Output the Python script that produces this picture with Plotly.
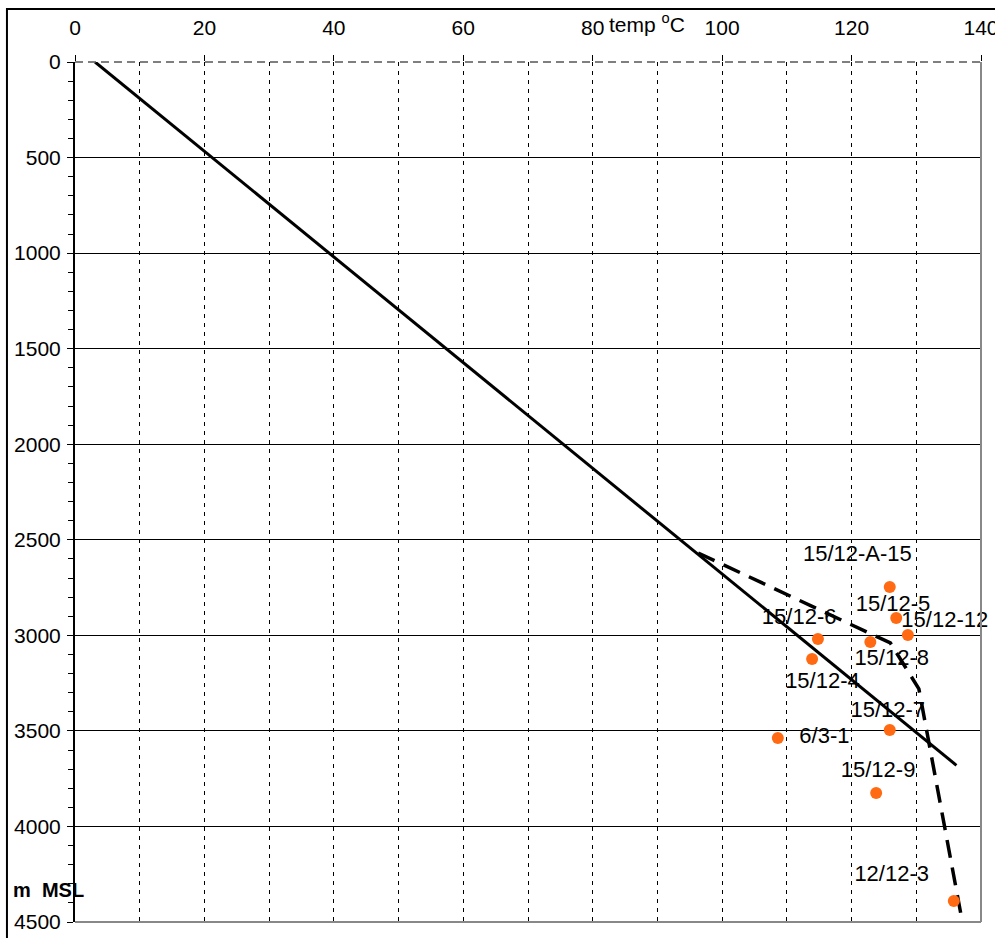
import plotly.graph_objects as go

# Trend line (solid)
trend_temp = [3.1, 136.2]
trend_depth = [0, 3680]

# Interpreted profile (dashed)
profile_temp = [96.3, 126.0, 130.4, 136.9]
profile_depth = [2569, 3040, 3280, 4460]

# Well measurements
well_names = ["15/12-A-15", "15/12-5", "15/12-12", "15/12-6", "15/12-8",
              "15/12-4", "15/12-7", "6/3-1", "15/12-9", "12/12-3"]
well_temp = [125.9, 126.9, 128.7, 114.8, 122.9, 113.9, 125.9, 108.6, 123.8, 135.8]
well_depth = [2747, 2909, 2998, 3019, 3035, 3124, 3495, 3537, 3825, 4390]

# Label positions
label_temp = [120.9, 126.4, 134.4, 111.9, 126.2, 115.5, 125.6, 115.8, 124.1, 126.2]
label_depth = [2584, 2845, 2929, 2913, 3128, 3248, 3400, 3535, 3715, 4257]

x_ticks = [0, 20, 40, 60, 80, 100, 120, 140]
y_ticks = [0, 500, 1000, 1500, 2000, 2500, 3000, 3500, 4000, 4500]
y_grid = [500, 1000, 1500, 2000, 2500, 3000, 3500, 4000]

FONT = "Liberation Sans, Arial, sans-serif"
FS = 21

fig = go.Figure()
fig.add_trace(go.Scatter(x=trend_temp, y=trend_depth, mode="lines",
                         line=dict(color="black", width=3), hoverinfo="skip"))
fig.add_trace(go.Scatter(x=profile_temp, y=profile_depth, mode="lines",
                         line=dict(color="black", width=3.5, dash="18px,10px"),
                         hoverinfo="skip"))
fig.add_trace(go.Scatter(x=well_temp, y=well_depth, mode="markers",
                         marker=dict(color="#FF6A13", size=12), cliponaxis=False))
fig.add_trace(go.Scatter(x=label_temp, y=label_depth, mode="text", text=well_names,
                         textposition="middle center", cliponaxis=False,
                         textfont=dict(family=FONT, size=22, color="black")))
# invisible trace to activate overlay grid axis
fig.add_trace(go.Scatter(x=[None], y=[None], yaxis="y2", showlegend=False))

fig.update_layout(
    width=995, height=938,
    margin=dict(l=75, r=14, t=62, b=16, autoexpand=False),
    paper_bgcolor="white", plot_bgcolor="white",
    showlegend=False,
    font=dict(family=FONT, size=FS, color="black"),
    xaxis=dict(range=[0, 140], side="top", tickvals=x_ticks, automargin=False,
               ticks="outside", ticklen=6, tickcolor="black", tickwidth=1,
               showline=False, zeroline=False, ticklabeloverflow="allow",
               showgrid=True, gridcolor="black", gridwidth=1, griddash="4px,5px",
               minor=dict(dtick=10, showgrid=True, gridcolor="black", gridwidth=1,
                          griddash="4px,5px"),
               ticklabelstandoff=12,
               tickfont=dict(size=FS, family=FONT)),
    yaxis=dict(range=[4500, 0], tickvals=y_ticks, automargin=False,
               ticks="outside", ticklen=6, tickcolor="black",
               showline=True, linecolor="black", linewidth=2,
               showgrid=False, zeroline=False, ticklabeloverflow="allow",
               minor=dict(dtick=100, ticks="outside", ticklen=5, tickcolor="black",
                          showgrid=False),
               ticklabelstandoff=2,
               tickfont=dict(size=FS, family=FONT)),
    yaxis2=dict(range=[4500, 0], overlaying="y", tickvals=y_grid, automargin=False,
                showticklabels=False, ticks="", showline=False, zeroline=False,
                showgrid=True, gridcolor="black", gridwidth=1),
    shapes=[
        # outer frame
        dict(type="rect", xref="paper", yref="paper", x0=-0.0751, x1=1.03,
             y0=-0.03, y1=1.0616, line=dict(color="black", width=2), layer="below"),
        # top dashed axis line
        dict(type="line", xref="paper", yref="paper", x0=0, x1=1, y0=1, y1=1,
             line=dict(color="#555555", width=1.5, dash="8px,5px"), layer="above"),
        # right border
        dict(type="line", xref="paper", yref="paper", x0=1, x1=1, y0=0, y1=1,
             line=dict(color="#888888", width=2), layer="above"),
        # bottom border
        dict(type="line", xref="paper", yref="paper", x0=0, x1=1, y0=0, y1=0,
             line=dict(color="#888888", width=2), layer="above"),
    ],
    annotations=[
        dict(text="temp <sup>o</sup>C", xref="paper", yref="paper",
             x=0.587, y=1.045, xanchor="left", yanchor="middle", showarrow=False,
             font=dict(size=FS, family=FONT)),
        dict(text="<b>m  MSL</b>", xref="paper", yref="paper",
             x=-0.0287, y=0.0372, xanchor="center", yanchor="middle", showarrow=False,
             font=dict(size=20, family=FONT)),
    ],
)

fig.write_html("out.html", config={"displayModeBar": False},
               post_script="document.body.style.margin='0';document.body.style.overflow='hidden';")
